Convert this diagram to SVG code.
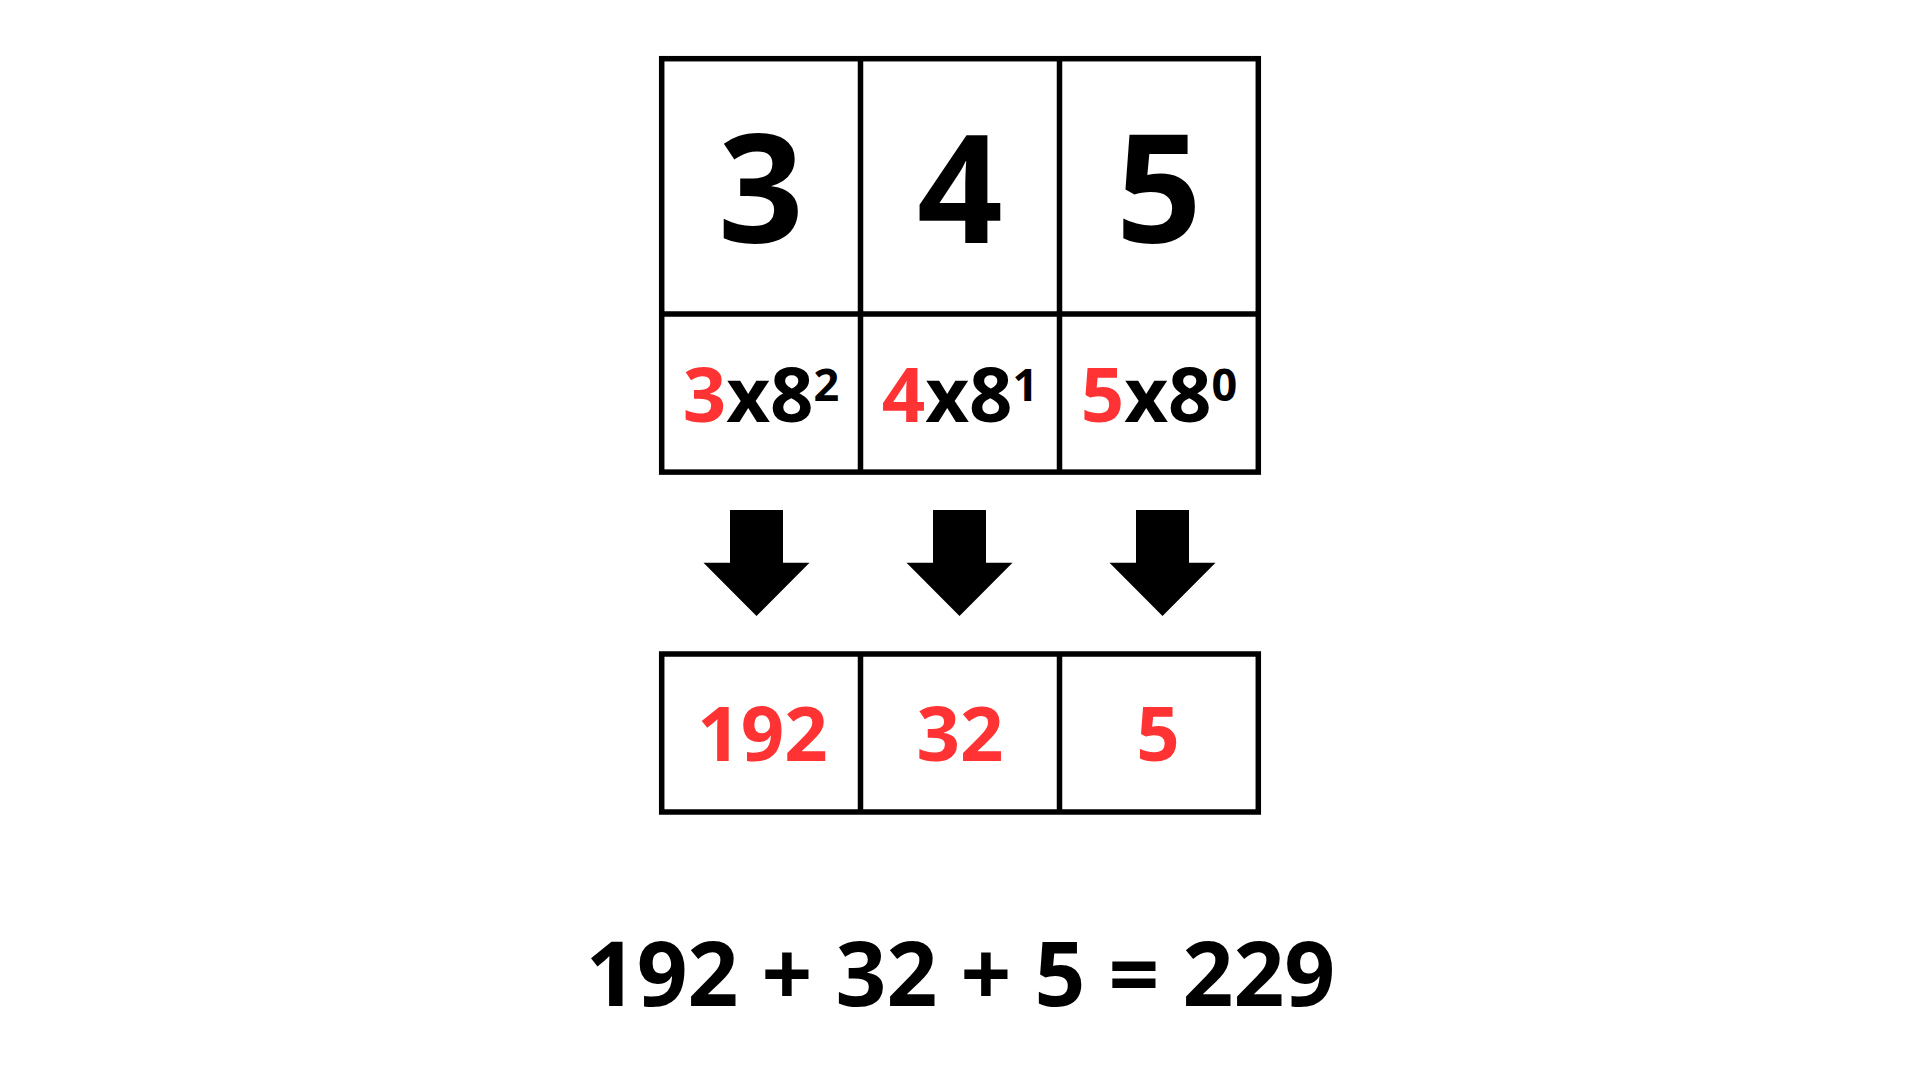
<svg xmlns="http://www.w3.org/2000/svg" xmlns:xlink="http://www.w3.org/1999/xlink" width="1920" height="1080" viewBox="0 0 1920 1080">
<style>
.grid{fill:none;stroke:#000;stroke-width:5.5}
.t{font-family:"Open Sans","Noto Sans","Liberation Sans",sans-serif;font-weight:700;text-anchor:middle}
.big{font-size:150px;fill:#000}
.mid{font-size:76px;fill:#000}
.red{fill:#ff3333}
.sup{font-size:45px}
.eq{font-size:89px;fill:#000}
</style>
<defs>
<path id="arrow" d="M-26.5,510 H26.5 V562.7 H53 L0,616 L-53,562.7 H-26.5 Z" fill="#000"/>
</defs>
<rect width="1920" height="1080" fill="#fff"/>
<g id="top-grid">
<rect class="grid" x="661.7" y="58.7" width="596.6" height="413.4"/>
<line class="grid" x1="860.5" y1="58.7" x2="860.5" y2="472.1"/>
<line class="grid" x1="1059.5" y1="58.7" x2="1059.5" y2="472.1"/>
<line class="grid" x1="661.7" y1="314" x2="1258.3" y2="314"/>
</g>
<g id="digit-3"><text class="t big" x="761" y="243">3</text></g>
<g id="digit-4"><text class="t big" x="960" y="243">4</text></g>
<g id="digit-5"><text class="t big" x="1159" y="243">5</text></g>
<g id="term-3"><text class="t mid" x="761" y="421.5"><tspan class="red">3</tspan>x8<tspan class="sup" dy="-21">2</tspan></text></g>
<g id="term-4"><text class="t mid" x="960" y="421.5"><tspan class="red">4</tspan>x8<tspan class="sup" dy="-21">1</tspan></text></g>
<g id="term-5"><text class="t mid" x="1159" y="421.5"><tspan class="red">5</tspan>x8<tspan class="sup" dy="-21">0</tspan></text></g>
<g id="connectors">
<use xlink:href="#arrow" href="#arrow" x="756.5" y="0"/>
<use xlink:href="#arrow" href="#arrow" x="959.5" y="0"/>
<use xlink:href="#arrow" href="#arrow" x="1162.5" y="0"/>
</g>
<g id="bottom-grid">
<rect class="grid" x="661.7" y="654" width="596.6" height="158"/>
<line class="grid" x1="860.5" y1="654" x2="860.5" y2="812"/>
<line class="grid" x1="1059.5" y1="654" x2="1059.5" y2="812"/>
</g>
<g id="value-192"><text class="t mid red" x="762.5" y="761">192</text></g>
<g id="value-32"><text class="t mid red" x="960" y="761">32</text></g>
<g id="value-5"><text class="t mid red" x="1158" y="761">5</text></g>
<g id="equation"><text class="t eq" x="960.5" y="1006">192 + 32 + 5 = 229</text></g>
</svg>
